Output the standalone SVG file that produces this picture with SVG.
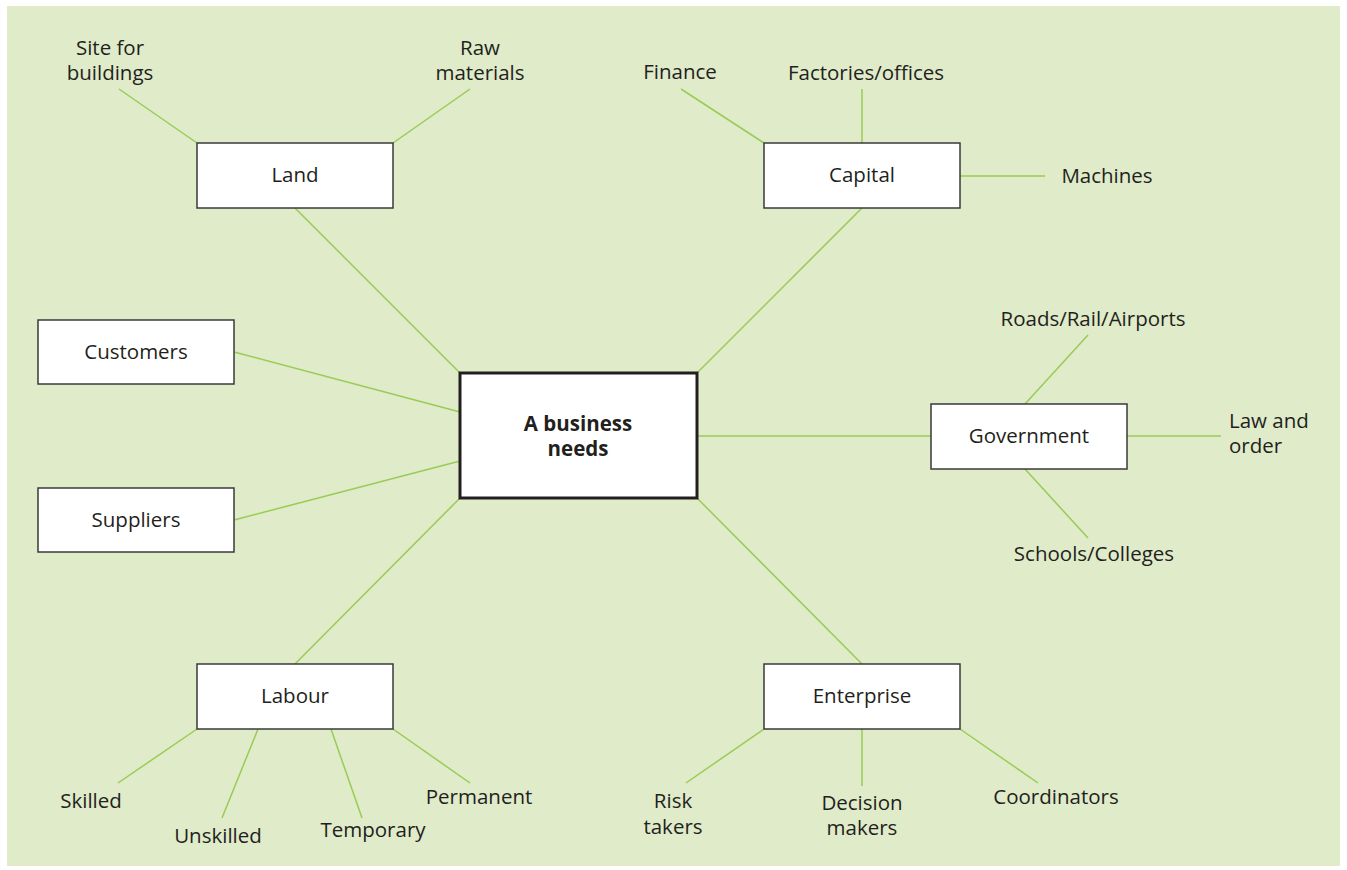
<svg xmlns="http://www.w3.org/2000/svg" width="1347" height="870" viewBox="0 0 1347 870">
<style>
.bg{fill:#dfebc9}
.box{fill:#fff;stroke:#3a3a3a;stroke-width:1.5}
.main{fill:#fff;stroke:#231f20;stroke-width:3}
.ln{stroke:#9acb55;stroke-width:1.5;fill:none}
text{font-family:"Open Sans","Noto Sans","Liberation Sans",sans-serif;font-size:20.5px;fill:#231f20;text-anchor:middle}
.b{font-weight:bold;font-size:20.5px}
.l{text-anchor:start}
</style>
<rect x="0" y="0" width="1347" height="870" fill="#fff"/>
<rect class="bg" x="7" y="6" width="1333" height="860"/>
<g id="connectors">
<line class="ln" x1="295" y1="208" x2="460" y2="373"/>
<line class="ln" x1="862" y1="208" x2="697" y2="373"/>
<line class="ln" x1="234" y1="352" x2="460" y2="412"/>
<line class="ln" x1="234" y1="520" x2="460" y2="461"/>
<line class="ln" x1="697" y1="436" x2="931" y2="436"/>
<line class="ln" x1="460" y1="498" x2="295" y2="664"/>
<line class="ln" x1="697" y1="498" x2="862" y2="664"/>
<line class="ln" x1="197" y1="143" x2="119" y2="89"/>
<line class="ln" x1="393" y1="143" x2="470" y2="89"/>
<line class="ln" x1="764" y1="143" x2="681" y2="89"/>
<line class="ln" x1="862" y1="143" x2="862" y2="89"/>
<line class="ln" x1="960" y1="176" x2="1045" y2="176"/>
<line class="ln" x1="1025" y1="404" x2="1088" y2="335"/>
<line class="ln" x1="1127" y1="436" x2="1221" y2="436"/>
<line class="ln" x1="1025" y1="469" x2="1088" y2="538"/>
<line class="ln" x1="197" y1="729" x2="118" y2="783"/>
<line class="ln" x1="258" y1="729" x2="222" y2="818"/>
<line class="ln" x1="331" y1="729" x2="362" y2="818"/>
<line class="ln" x1="393" y1="729" x2="470" y2="783"/>
<line class="ln" x1="764" y1="729" x2="686" y2="783"/>
<line class="ln" x1="862" y1="729" x2="862" y2="786"/>
<line class="ln" x1="960" y1="729" x2="1038" y2="783"/>
</g>
<g id="center"><rect class="main" x="460" y="373" width="237" height="125"/><text class="b" x="578" y="431">A business</text><text class="b" x="578" y="456">needs</text></g>
<g id="land"><rect class="box" x="197" y="143" width="196" height="65"/><text x="295" y="182">Land</text></g>
<g id="capital"><rect class="box" x="764" y="143" width="196" height="65"/><text x="862" y="182">Capital</text></g>
<g id="customers"><rect class="box" x="38" y="320" width="196" height="64"/><text x="136" y="359">Customers</text></g>
<g id="suppliers"><rect class="box" x="38" y="488" width="196" height="64"/><text x="136" y="527">Suppliers</text></g>
<g id="government"><rect class="box" x="931" y="404" width="196" height="65"/><text x="1029" y="443">Government</text></g>
<g id="labour"><rect class="box" x="197" y="664" width="196" height="65"/><text x="295" y="703">Labour</text></g>
<g id="enterprise"><rect class="box" x="764" y="664" width="196" height="65"/><text x="862" y="703">Enterprise</text></g>
<g id="labels">
<text x="110" y="55">Site for</text><text x="110" y="80">buildings</text>
<text x="480" y="55">Raw</text><text x="480" y="80">materials</text>
<text x="680" y="79">Finance</text>
<text x="866" y="80">Factories/offices</text>
<text x="1107" y="183">Machines</text>
<text x="1093" y="326">Roads/Rail/Airports</text>
<text class="l" x="1229" y="428">Law and</text><text class="l" x="1229" y="453">order</text>
<text x="1094" y="561">Schools/Colleges</text>
<text x="91" y="808">Skilled</text>
<text x="218" y="843">Unskilled</text>
<text x="373" y="837">Temporary</text>
<text x="479" y="804">Permanent</text>
<text x="673" y="808">Risk</text><text x="673" y="834">takers</text>
<text x="862" y="810">Decision</text><text x="862" y="835">makers</text>
<text x="1056" y="804">Coordinators</text>
</g>
</svg>
